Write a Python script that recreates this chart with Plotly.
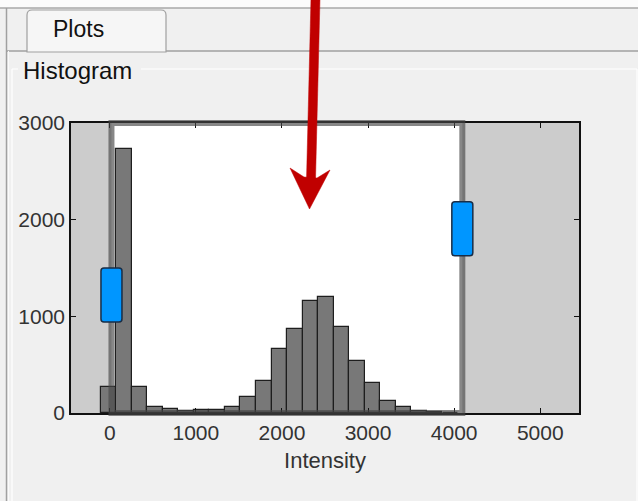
import plotly.graph_objects as go

# histogram data (bin centres and counts)
bin_centers = [-15, 165, 345, 525, 706, 886, 1067, 1247, 1428, 1608, 1789, 1969,
               2150, 2330, 2511, 2691, 2872, 3052, 3233, 3413, 3594, 3774, 3955]
counts = [269, 2731, 269, 62, 41, 24, 34, 34, 59, 166, 328, 662,
          872, 1162, 1197, 890, 534, 310, 121, 59, 17, 7, 2]
bin_width = 180

x_ticks = [0, 1000, 2000, 3000, 4000, 5000]
y_ticks = [0, 1000, 2000, 3000]
x_range = [-450, 5450]
y_range = [0, 3000]

# contrast window limits and handle heights
window_min = 20
window_max = 4095
handle_y = [1220, 1906]

W, H = 638, 501
L, R, T, B = 71, 59, 123, 88
PW, PH = W - L - R, H - T - B


def fx(p):
    return (p - L) / PW


def fy(p):
    return (H - B - p) / PH


def dx(v):
    return (v - x_range[0]) / (x_range[1] - x_range[0])


def dy(v):
    return (v - y_range[0]) / (y_range[1] - y_range[0])


def rrect(x0, y0, x1, y1, r):
    # rounded rectangle path in paper coords, from pixel box
    return (
        f"M {fx(x0 + r)},{fy(y0)} L {fx(x1 - r)},{fy(y0)} "
        f"Q {fx(x1)},{fy(y0)} {fx(x1)},{fy(y0 + r)} "
        f"L {fx(x1)},{fy(y1 - r)} Q {fx(x1)},{fy(y1)} {fx(x1 - r)},{fy(y1)} "
        f"L {fx(x0 + r)},{fy(y1)} Q {fx(x0)},{fy(y1)} {fx(x0)},{fy(y1 - r)} "
        f"L {fx(x0)},{fy(y0 + r)} Q {fx(x0)},{fy(y0)} {fx(x0 + r)},{fy(y0)} Z"
    )


fig = go.Figure()

fig.add_trace(go.Bar(
    x=bin_centers,
    y=counts,
    width=bin_width,
    marker=dict(color='rgb(120,120,120)', line=dict(color='rgb(30,30,30)', width=1.2)),
    showlegend=False,
    hoverinfo='x+y',
))

shapes = []

# gui chrome
shapes.append(dict(type='rect', xref='paper', yref='paper', x0=fx(0), x1=fx(W), y0=fy(0), y1=fy(8),
                   fillcolor='#fbfbfb', line=dict(width=0), layer='below'))
shapes.append(dict(type='line', xref='paper', yref='paper', x0=fx(0), x1=fx(W), y0=fy(8), y1=fy(8),
                   line=dict(color='#a8a8a8', width=1.5)))
shapes.append(dict(type='line', xref='paper', yref='paper', x0=fx(7), x1=fx(W), y0=fy(51), y1=fy(51),
                   line=dict(color='#a0a0a0', width=1.5)))
shapes.append(dict(type='line', xref='paper', yref='paper', x0=fx(6.5), x1=fx(6.5), y0=fy(8), y1=fy(H),
                   line=dict(color='#a0a0a0', width=1.5)))
shapes.append(dict(type='line', xref='paper', yref='paper', x0=fx(8.5), x1=fx(8.5), y0=fy(51), y1=fy(H),
                   line=dict(color='#fafafa', width=1)))
tab_path = (
    f"M {fx(27)},{fy(52)} L {fx(27)},{fy(15)} Q {fx(27)},{fy(10)} {fx(32)},{fy(10)} "
    f"L {fx(161)},{fy(10)} Q {fx(166)},{fy(10)} {fx(166)},{fy(15)} L {fx(166)},{fy(52)} Z"
)
shapes.append(dict(type='path', xref='paper', yref='paper', path=tab_path,
                   fillcolor='#f6f6f6', line=dict(color='#a0a0a0', width=1.2)))
# group box
shapes.append(dict(type='line', xref='paper', yref='paper', x0=fx(12), x1=fx(637), y0=fy(69), y1=fy(69),
                   line=dict(color='#ffffff', width=1.2)))
shapes.append(dict(type='line', xref='paper', yref='paper', x0=fx(12), x1=fx(12), y0=fy(69), y1=fy(H),
                   line=dict(color='#ffffff', width=1.2)))
shapes.append(dict(type='line', xref='paper', yref='paper', x0=fx(637), x1=fx(637), y0=fy(69), y1=fy(H),
                   line=dict(color='#ffffff', width=1.2)))
shapes.append(dict(type='rect', xref='paper', yref='paper', x0=fx(18), x1=fx(141), y0=fy(60), y1=fy(78),
                   fillcolor='#f0f0f0', line=dict(width=0)))

# shaded regions outside the window
shapes.append(dict(type='rect', xref='paper', yref='paper', x0=0, x1=dx(window_min), y0=0, y1=1,
                   fillcolor='#cccccc', line=dict(width=0), layer='below'))
shapes.append(dict(type='rect', xref='paper', yref='paper', x0=dx(window_max), x1=1, y0=0, y1=1,
                   fillcolor='#cccccc', line=dict(width=0), layer='below'))

# window outline
shapes.append(dict(type='rect', xref='paper', yref='paper', x0=dx(window_min), x1=dx(window_max),
                   y0=0, y1=1, line=dict(color='rgba(70,70,70,0.65)', width=6)))

# handles
for xv, yv in zip([window_min, window_max], handle_y):
    cx = L + dx(xv) * PW
    cy = H - B - dy(yv) * PH
    shapes.append(dict(type='path', xref='paper', yref='paper',
                       path=rrect(cx - 10.5, cy - 27, cx + 10.5, cy + 27, 3),
                       fillcolor='rgb(0,150,255)', line=dict(color='rgb(25,45,70)', width=1.5)))

# red arrow
shaft = f"M {fx(311)},{fy(-2)} L {fx(320)},{fy(-2)} L {fx(315.5)},{fy(180)} L {fx(306.5)},{fy(180)} Z"
head = (f"M {fx(290)},{fy(168)} L {fx(309.5)},{fy(209)} L {fx(330)},{fy(170)} "
        f"L {fx(317)},{fy(178)} L {fx(304)},{fy(177)} Z")
for p in (shaft, head):
    shapes.append(dict(type='path', xref='paper', yref='paper', path=p,
                       fillcolor='rgb(192,0,0)', line=dict(color='rgb(192,0,0)', width=0.5)))

annotations = [
    dict(text='Plots', xref='paper', yref='paper', x=fx(78), y=fy(29), showarrow=False,
         font=dict(size=23, color='#111111', family='Liberation Sans, Arial, sans-serif'),
         xanchor='center', yanchor='middle'),
    dict(text='Histogram', xref='paper', yref='paper', x=fx(21), y=fy(70), showarrow=False,
         font=dict(size=24, color='#111111', family='Liberation Sans, Arial, sans-serif'),
         xanchor='left', yanchor='middle'),
]

axis_font = dict(size=21, color='#333333', family='Liberation Sans, Arial, sans-serif')

fig.update_layout(
    width=W,
    height=H,
    margin=dict(l=L, r=R, t=T, b=B, autoexpand=False),
    paper_bgcolor='#f0f0f0',
    plot_bgcolor='#ffffff',
    bargap=0,
    shapes=shapes,
    annotations=annotations,
    xaxis=dict(
        range=x_range,
        tickvals=x_ticks,
        ticktext=[str(v) for v in x_ticks],
        ticks='inside',
        ticklen=5,
        tickcolor='#111111',
        showline=True,
        linecolor='#111111',
        linewidth=1.5,
        mirror='ticks',
        showgrid=False,
        zeroline=False,
        tickfont=axis_font,
        title=dict(text='Intensity', font=dict(size=22, color='#333333',
                                               family='Liberation Sans, Arial, sans-serif'),
                   standoff=10),
    ),
    yaxis=dict(
        range=y_range,
        tickvals=y_ticks,
        ticktext=[str(v) for v in y_ticks],
        ticks='inside',
        ticklen=5,
        tickcolor='#111111',
        showline=True,
        linecolor='#111111',
        linewidth=1.5,
        mirror='ticks',
        showgrid=False,
        zeroline=False,
        tickfont=axis_font,
    ),
)

# drop the default page margin so the figure sits at the window's top-left corner
fig.write_html('out.html', config=dict(displayModeBar=False),
               post_script="document.body.style.margin='0';")
